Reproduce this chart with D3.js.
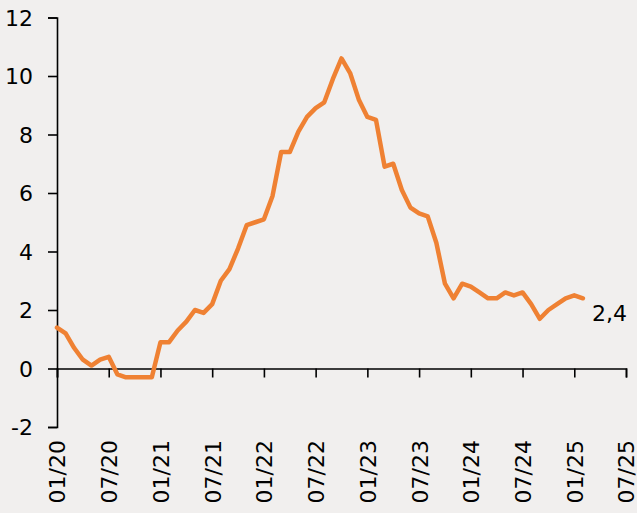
<!DOCTYPE html>
<html>
<head>
<meta charset="utf-8">
<script src="https://cdn.jsdelivr.net/npm/d3@7"></script>
<style>
  html, body { margin: 0; padding: 0; background: #f1efee; }
  svg { display: block; }
  text { font-family: "DejaVu Sans", sans-serif; fill: #000; }
</style>
</head>
<body>
<svg></svg>
<script>
const width = 637;
const height = 513;

// monthly inflation, 01/2020 .. 02/2025
const values = [
  1.4, 1.2, 0.7, 0.3, 0.1, 0.3, 0.4, -0.2, -0.3, -0.3, -0.3, -0.3,
  0.9, 0.9, 1.3, 1.6, 2.0, 1.9, 2.2, 3.0, 3.4, 4.1, 4.9, 5.0,
  5.1, 5.9, 7.4, 7.4, 8.1, 8.6, 8.9, 9.1, 9.9, 10.6, 10.1, 9.2,
  8.6, 8.5, 6.9, 7.0, 6.1, 5.5, 5.3, 5.2, 4.3, 2.9, 2.4, 2.9,
  2.8, 2.6, 2.4, 2.4, 2.6, 2.5, 2.6, 2.2, 1.7, 2.0, 2.2, 2.4,
  2.5, 2.4
];
const xTickLabels = ['01/20', '07/20', '01/21', '07/21', '01/22', '07/22',
  '01/23', '07/23', '01/24', '07/24', '01/25', '07/25'];
const yTicks = [-2, 0, 2, 4, 6, 8, 10, 12];
const lastLabel = '2,4';

const svg = d3.select('svg').attr('width', width).attr('height', height);

const x = d3.scaleLinear().domain([0, 66]).range([57, 626]);
const y = d3.scaleLinear().domain([-2, 12]).range([427, 17.5]);

// y axis
const yAxis = svg.append('g')
    .attr('transform', `translate(${x(0)},0)`)
    .call(d3.axisLeft(y).tickValues(yTicks).tickSize(9).tickPadding(15));
yAxis.selectAll('text').style('font-size', '22px').attr('dy', '0.36em')
    .text(d => d < 0 ? '-' + Math.abs(d) : d);

// x axis at zero
const xAxis = svg.append('g')
    .attr('transform', `translate(0,${y(0)})`)
    .call(d3.axisBottom(x).tickValues(d3.range(0, 67, 6)).tickSize(9).tickFormat((d, i) => xTickLabels[i]));
xAxis.selectAll('text')
    .style('font-size', '22px')
    .attr('transform', 'rotate(-90)')
    .attr('text-anchor', 'end')
    .attr('x', -(440 - y(0)))
    .attr('y', 0)
    .attr('dy', '0.36em');

svg.selectAll('.domain, .tick line').attr('stroke', '#000').attr('stroke-width', 1.6);

// line
const line = d3.line().x((d, i) => x(i)).y(d => y(d));
svg.append('path')
    .datum(values)
    .attr('d', line)
    .attr('fill', 'none')
    .attr('stroke', '#ef8133')
    .attr('stroke-width', 4.5)
    .attr('stroke-linejoin', 'round')
    .attr('stroke-linecap', 'round');

// end label
const lastIdx = values.length - 1;
svg.append('text')
    .attr('x', x(lastIdx) + 9)
    .attr('y', y(values[lastIdx]) + 23)
    .style('font-size', '22px')
    .text(lastLabel);
</script>
</body>
</html>
